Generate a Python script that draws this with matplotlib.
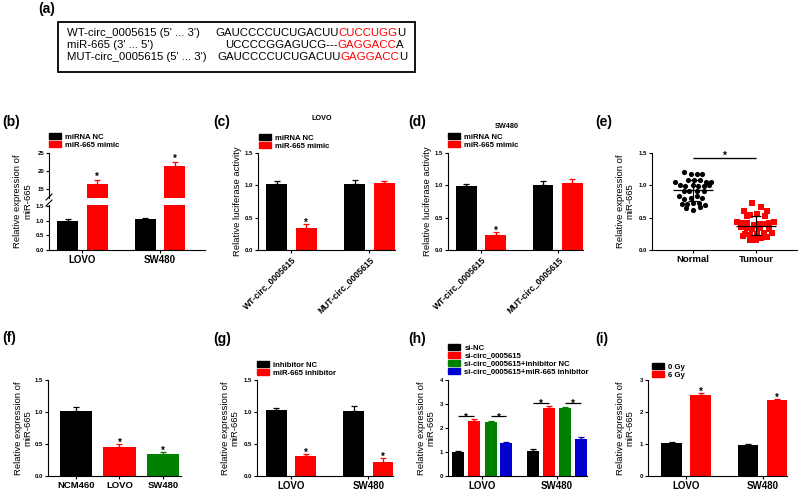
import numpy as np
import matplotlib.pyplot as plt
from matplotlib.patches import Rectangle
from matplotlib.lines import Line2D

plt.rcParams['font.family'] = ['Liberation Sans', 'DejaVu Sans']

W, H = 798, 490
RED = '#ff0000'
GREEN = '#008000'
BLUE = '#0000cd'

# ---- data ----
seq_labels = ["WT-circ_0005615 (5' ... 3')", "miR-665 (3' ... 5')", "MUT-circ_0005615 (5' ... 3')"]
seq_parts = [
    [("GAUCCCCUCUGACUU", "black"), ("CUCCUGG", RED), ("U", "black")],
    [("UCCCCGGAGUCG---", "black"), ("GAGGACC", RED), ("A", "black")],
    [("GAUCCCCUCUGACUU", "black"), ("GAGGACC", RED), ("U", "black")],
]

cell_groups = ["LOVO", "SW480"]
b_nc = [1.00, 1.05]
b_nc_err = [0.05, 0.03]
b_mimic = [16.5, 21.3]
b_mimic_err = [1.0, 1.2]

luc_groups = ["WT-circ_0005615", "MUT-circ_0005615"]
c_nc = [1.02, 1.02]
c_nc_err = [0.05, 0.07]
c_mimic = [0.34, 1.03]
c_mimic_err = [0.06, 0.04]
d_nc = [0.99, 1.01]
d_nc_err = [0.03, 0.05]
d_mimic = [0.23, 1.04]
d_mimic_err = [0.05, 0.06]

normal_x = [-0.14, -0.03, 0.06, 0.15, -0.28, -0.20, -0.12, -0.08, 0.01, 0.11, 0.00, 0.08, 0.17, 0.25,
            0.29, 0.20, -0.15, -0.06, 0.07, 0.17, -0.22, -0.14, -0.03, 0.06, 0.15, -0.18, -0.09, 0.00,
            0.10, 0.19, -0.11, 0.00, 0.11]
normal_y = [1.21, 1.17, 1.18, 1.18, 1.05, 1.01, 0.99, 1.08, 1.09, 1.08, 1.00, 0.99, 0.99, 1.00,
            1.05, 1.05, 0.92, 0.92, 0.92, 0.92, 0.84, 0.79, 0.81, 0.84, 0.81, 0.71, 0.71, 0.73,
            0.72, 0.69, 0.65, 0.62, 0.67]
tumour_x = [-0.06, -0.19, 0.08, 0.17, -0.10, 0.01, -0.15, 0.14, -0.30, -0.22, -0.14, -0.04, 0.04,
            0.12, 0.20, 0.28, -0.24, -0.15, -0.07, 0.06, 0.21, -0.17, -0.09, 0.01, 0.12, 0.25,
            -0.10, -0.01, 0.08, 0.00, -0.20, 0.18]
tumour_y = [0.72, 0.61, 0.67, 0.61, 0.54, 0.55, 0.52, 0.52, 0.43, 0.42, 0.42, 0.39, 0.40,
            0.40, 0.42, 0.43, 0.35, 0.34, 0.32, 0.34, 0.33, 0.25, 0.23, 0.25, 0.26, 0.27,
            0.16, 0.19, 0.18, 0.15, 0.22, 0.20]

f_groups = ["NCM460", "LOVO", "SW480"]
f_vals = [1.01, 0.46, 0.34]
f_errs = [0.07, 0.04, 0.04]

g_nc = [1.03, 1.02]
g_nc_err = [0.03, 0.08]
g_inh = [0.31, 0.22]
g_inh_err = [0.04, 0.06]

h_labels = ["si-NC", "si-circ_0005615", "si-circ_0005615+inhibitor NC", "si-circ_0005615+miR-665 inhibitor"]
h_vals = [[1.02, 1.05], [2.28, 2.85], [2.24, 2.84], [1.36, 1.56]]
h_errs = [[0.04, 0.07], [0.08, 0.07], [0.07, 0.03], [0.05, 0.06]]

i_0gy = [1.02, 0.98]
i_0gy_err = [0.04, 0.03]
i_6gy = [2.52, 2.37]
i_6gy_err = [0.06, 0.05]

fig = plt.figure(figsize=(W / 100, H / 100), dpi=100)


def px_rect(x0, y0, x1, y1):
    return [x0 / W, 1 - y1 / H, (x1 - x0) / W, (y1 - y0) / H]


def fx(x):
    return x / W


def fy(y):
    return 1 - y / H


def style(ax, yticks, ylabels, xlim):
    for s in ['top', 'right']:
        ax.spines[s].set_visible(False)
    for s in ['left', 'bottom']:
        ax.spines[s].set_linewidth(0.8)
    ax.set_yticks(yticks, labels=ylabels, fontsize=4.3, fontweight='bold')
    ax.set_ylim(yticks[0], yticks[-1])
    ax.set_xlim(*xlim)
    ax.tick_params(axis='both', width=0.8, length=2.5, pad=1)


def bars(ax, xs, vals, errs, color, width):
    for x, v, e in zip(xs, vals, errs):
        ax.bar(x, v, width, color=color, zorder=2)
        ax.errorbar(x, v, yerr=[[0], [e]], fmt='none', ecolor=color, elinewidth=0.9,
                    capsize=2.5, capthick=0.9, zorder=1)


def star(ax, x, y, size=7):
    ax.text(x, y, '*', ha='center', va='bottom', fontsize=size, fontweight='bold')


def legend(ax, labels, colors, x, y):
    handles = [Rectangle((0, 0), 1, 1, color=c) for c in colors]
    ax.legend(handles, labels, loc='upper left', bbox_to_anchor=(fx(x), fy(y)),
              bbox_transform=fig.transFigure, frameon=False, borderpad=0, borderaxespad=0,
              handlelength=1.5, handleheight=0.75, handletextpad=0.6, labelspacing=0.05,
              prop={'size': 5.6, 'weight': 'bold'})


def ylab(ax, text, pad=2):
    ax.set_ylabel(text, fontsize=6.8, linespacing=1.15, labelpad=pad)


def panel_label(x, y, s):
    fig.text(fx(x), fy(y), s, fontsize=10, fontweight='bold', ha='left', va='center')


dec_ticks = [0, 0.5, 1.0, 1.5]
dec_labels = ['0.0', '0.5', '1.0', '1.5']
off = 0.19
bw = 0.27

# ---- (a) ----
panel_label(38, 9, '(a)')
fig.patches.append(Rectangle((fx(58), fy(72)), (415 - 58) / W, 50 / H, transform=fig.transFigure,
                             fill=False, edgecolor='black', linewidth=1.3))
renderer = fig.canvas.get_renderer()
row_y = [33.5, 45.5, 57.5]
seq_x = [215, 225, 217]
for lab, parts, yy, sx in zip(seq_labels, seq_parts, row_y, seq_x):
    fig.text(fx(67), fy(yy), lab, fontsize=8.2, ha='left', va='center')
    xcur = sx
    for s, c in parts:
        t = fig.text(fx(xcur), fy(yy), s, fontsize=8.2, color=c, ha='left', va='center')
        bb = t.get_window_extent(renderer=renderer)
        xcur = bb.x1

# ---- (b) broken axis ----
panel_label(2, 122, '(b)')
gx = np.arange(len(cell_groups))
ax_lo = fig.add_axes(px_rect(49, 205, 205, 250))
ax_hi = fig.add_axes(px_rect(49, 153, 205, 198))
for ax in (ax_lo, ax_hi):
    bars(ax, gx - off, b_nc, b_nc_err, 'black', bw)
    bars(ax, gx + off, b_mimic, b_mimic_err, RED, bw)
style(ax_lo, dec_ticks, dec_labels, (-0.43, 1.58))
ax_lo.set_ylim(0, 1.54)
style(ax_hi, [15, 20, 25], ['15', '20', '25'], (-0.43, 1.58))
ax_hi.set_ylim(12.5, 25)
ax_hi.spines['bottom'].set_visible(False)
ax_hi.set_xticks([])
ax_lo.set_xticks(gx, labels=cell_groups, fontsize=7, fontweight='bold')
for x, v, e in zip(gx + off, b_mimic, b_mimic_err):
    star(ax_hi, x, v + e - 0.6)
fig.text(fx(23), fy(201), 'Relative expression of\nmiR-665', rotation=90, fontsize=6.8,
         linespacing=1.15, ha='center', va='center')
for yy in (197, 203):
    fig.lines.append(Line2D([fx(46), fx(52)], [fy(yy + 3), fy(yy - 3)], color='black',
                            linewidth=0.8, transform=fig.transFigure))
legend(ax_lo, ['miRNA NC', 'miR-665 mimic'], ['black', RED], 49, 133)


# ---- (c), (d) ----
def luc_panel(rect, nc, nce, mm, mme, title, tx, ty, lx, ly):
    ax = fig.add_axes(rect)
    bars(ax, gx - off, nc, nce, 'black', bw)
    bars(ax, gx + off, mm, mme, RED, bw)
    style(ax, dec_ticks, dec_labels, (-0.43, 1.33))
    ax.set_xticks(gx, labels=luc_groups, fontsize=6.2, fontweight='bold', rotation=45,
                  ha='right', rotation_mode='anchor')
    ylab(ax, 'Relative luciferase activity', pad=2)
    star(ax, off, mm[0] + mme[0] - 0.06)
    fig.text(fx(tx), fy(ty), title, fontsize=5.2, fontweight='bold', ha='center', va='center')
    legend(ax, ['miRNA NC', 'miR-665 mimic'], ['black', RED], lx, ly)
    return ax


panel_label(213, 122, '(c)')
luc_panel(px_rect(258, 153, 395, 250), c_nc, c_nc_err, c_mimic, c_mimic_err, 'LOVO', 322, 118, 259, 134)
panel_label(408, 122, '(d)')
luc_panel(px_rect(448, 153, 583, 250), d_nc, d_nc_err, d_mimic, d_mimic_err, 'SW480', 507, 127, 448, 133)

# ---- (e) ----
panel_label(595, 122, '(e)')
ax_e = fig.add_axes(px_rect(652, 153, 797, 250))
ax_e.scatter(normal_x, normal_y, s=14, color='black', marker='o', zorder=2, linewidths=0)
ax_e.scatter(np.array(tumour_x) + 1, tumour_y, s=13, color=RED, marker='s', zorder=2, linewidths=0)
for i, ys in enumerate([normal_y, tumour_y]):
    m, sd = np.mean(ys), np.std(ys)
    ax_e.hlines(m, i - 0.32, i + 0.32, color='black', linewidth=0.9, zorder=3)
    ax_e.errorbar(i, m, yerr=sd, fmt='none', ecolor='black', elinewidth=0.9, capsize=3.5,
                  capthick=0.9, zorder=3)
style(ax_e, dec_ticks, dec_labels, (-0.65, 1.65))
ax_e.set_xticks([0, 1], labels=['Normal', 'Tumour'], fontsize=6.8, fontweight='bold')
ax_e.hlines(1.42, 0, 1, color='black', linewidth=1.0)
star(ax_e, 0.5, 1.38, 7)
ylab(ax_e, 'Relative expression of\nmiR-665', pad=3)

# ---- (f) ----
panel_label(2, 338, '(f)')
ax_f = fig.add_axes(px_rect(48, 380, 181, 476))
fx_pos = np.arange(len(f_groups))
for x, v, e, c in zip(fx_pos, f_vals, f_errs, ['black', RED, GREEN]):
    bars(ax_f, [x], [v], [e], c, 0.75)
style(ax_f, dec_ticks, dec_labels, (-0.65, 2.42))
ax_f.set_xticks(fx_pos, labels=f_groups, fontsize=6.8, fontweight='bold')
for x in (1, 2):
    star(ax_f, x, f_vals[x] + f_errs[x] - 0.06)
ylab(ax_f, 'Relative expression of\nmiR-665', pad=1.5)

# ---- (g) ----
panel_label(213, 339, '(g)')
ax_g = fig.add_axes(px_rect(257, 380, 393, 476))
bars(ax_g, gx - off, g_nc, g_nc_err, 'black', bw)
bars(ax_g, gx + off, g_inh, g_inh_err, RED, bw)
style(ax_g, dec_ticks, dec_labels, (-0.44, 1.32))
ax_g.set_xticks(gx, labels=cell_groups, fontsize=7, fontweight='bold')
for x, v, e in zip(gx + off, g_inh, g_inh_err):
    star(ax_g, x, v + e - 0.06)
ylab(ax_g, 'Relative expression of\nmiR-665', pad=3)
legend(ax_g, ['inhibitor NC', 'miR-665 inhibitor'], ['black', RED], 257, 361)

# ---- (h) ----
panel_label(408, 339, '(h)')
ax_h = fig.add_axes(px_rect(448, 380, 587, 476))
h_cols = ['black', RED, GREEN, BLUE]
h_off = [-0.325, -0.11, 0.11, 0.32]
for vals, errs, c, o in zip(h_vals, h_errs, h_cols, h_off):
    bars(ax_h, gx + o, vals, errs, c, 0.16)
style(ax_h, [0, 1, 2, 3, 4], ['0', '1', '2', '3', '4'], (-0.46, 1.4))
ax_h.set_xticks(gx, labels=cell_groups, fontsize=7, fontweight='bold')
for g in gx:
    top = max(h_vals[1][g] + h_errs[1][g], h_vals[2][g] + h_errs[2][g]) + 0.12
    for a, b in ((0, 1), (2, 3)):
        ax_h.hlines(top, g + h_off[a], g + h_off[b], color='black', linewidth=0.9)
        star(ax_h, g + (h_off[a] + h_off[b]) / 2, top - 0.25)
ylab(ax_h, 'Relative expression of\nmiR-665', pad=3)
legend(ax_h, h_labels, h_cols, 448, 344)

# ---- (i) ----
panel_label(595, 339, '(i)')
ax_i = fig.add_axes(px_rect(648, 380, 787, 476))
bars(ax_i, gx - off, i_0gy, i_0gy_err, 'black', bw)
bars(ax_i, gx + off, i_6gy, i_6gy_err, RED, bw)
style(ax_i, [0, 1, 2, 3], ['0', '1', '2', '3'], (-0.5, 1.32))
ax_i.set_xticks(gx, labels=cell_groups, fontsize=7, fontweight='bold')
for x, v, e in zip(gx + off, i_6gy, i_6gy_err):
    star(ax_i, x, v + e - 0.12)
ylab(ax_i, 'Relative expression of\nmiR-665', pad=3.5)
legend(ax_i, ['0 Gy', '6 Gy'], ['black', RED], 652, 363)

fig.savefig('out.png', dpi=100)
